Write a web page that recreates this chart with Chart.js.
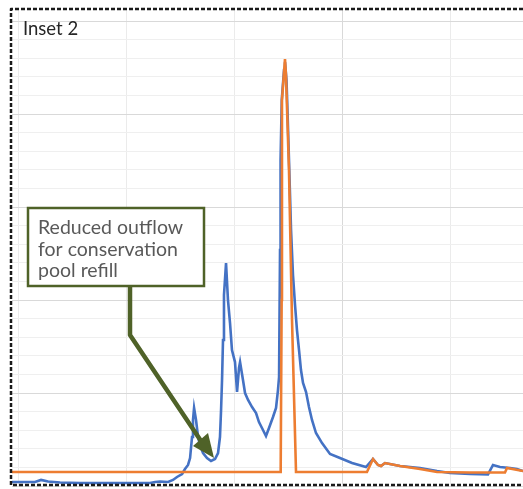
<!DOCTYPE html>
<html>
<head>
<meta charset="utf-8">
<script src="https://cdn.jsdelivr.net/npm/chart.js@4/dist/chart.umd.min.js"></script>
<style>
  html, body { margin: 0; padding: 0; background: #fff; }
  canvas { display: block; }
</style>
</head>
<body>
<canvas id="inset2" width="523" height="489"></canvas>
<script>
'use strict';

// inflow to the reservoir (days, cfs)
var inflowDay = [
    -0.56, 1.57, 2.13, 2.78, 3.89, 5.74, 8.52, 12.22, 12.69, 13.15, 13.89, 14.35,
    14.72, 15.19, 15.46, 15.74, 15.93, 16.11, 16.2, 16.3, 16.48, 16.67, 16.85, 17.13,
    17.5, 17.87, 18.24, 18.52, 18.7, 18.8, 18.89, 18.98, 19.07, 19.26, 19.44, 19.63,
    19.81, 20.09, 20.28, 20.46, 20.56, 20.83, 21.02, 21.3, 21.67, 22.04, 22.31, 22.59,
    22.96, 23.24, 23.61, 23.89, 24.07, 24.17, 24.26, 24.31, 24.42, 24.63, 24.72, 24.86,
    24.95, 25.09, 25.28, 25.46, 25.65, 25.83, 26.02, 26.2, 26.39, 26.67, 26.94, 27.22,
    27.59, 28.15, 28.89, 29.81, 30.93, 32.22, 32.87, 33.33, 33.61, 33.98, 35.37, 37.22,
    38.8, 40.0, 41.85, 43.52, 43.98, 44.63, 45.56, 46.2, 46.76
];
var inflowCfs = [
    4.3, 4.3, 6.5, 4.8, 3.8, 3.2, 3.2, 3.2, 4.3, 4.8, 4.3, 6.5,
    9.7, 12.9, 18.3, 22.6, 30.1, 52.7, 71.0, 83.9, 71.0, 52.7, 44.1, 35.5,
    30.1, 26.9, 29.0, 35.5, 52.7, 81.7, 114.0, 157.0, 205.4, 239.8, 200.0, 175.3,
    146.2, 133.3, 101.1, 126.9, 133.3, 114.0, 100.0, 92.5, 84.9, 78.5, 68.8, 62.4,
    53.8, 62.4, 74.2, 83.9, 103.2, 117.2, 253.8, 350.5, 415.1, 447.3, 455.9, 436.6,
    404.3, 350.5, 275.3, 226.9, 194.6, 167.7, 146.2, 124.7, 110.8, 101.1, 84.9, 71.0,
    57.0, 46.2, 34.4, 30.1, 24.7, 20.4, 29.0, 22.6, 21.5, 24.7, 21.5, 19.4,
    16.1, 14.0, 12.9, 12.4, 22.6, 20.4, 19.4, 18.3, 16.1
];

// outflow from the dam (days, cfs)
var outflowDay = [
    -0.56, 24.32, 24.41, 24.44, 24.72, 24.81, 25.09, 25.37, 25.74, 32.31, 32.87,
    33.33, 33.61, 33.98, 35.37, 37.22, 38.8, 41.85, 45.09, 45.28, 46.76
];
var outflowCfs = [
    15.1, 15.1, 200.0, 415.1, 459.1, 441.9, 339.8, 178.5, 15.1, 15.1, 29.0,
    22.6, 21.5, 24.7, 21.5, 18.3, 15.1, 14.5, 14.5, 19.4, 16.1
];

// grid
var dayLines = [0, 10, 20, 30, 40];
var cfsLines = [0, 20, 40, 60, 80, 100, 120, 140, 160, 180, 200, 220, 240, 260, 280,
                300, 320, 340, 360, 380, 400, 420, 440, 460, 480, 500];

// callout text
var insetTitle = 'Inset 2';
var noteLines = ['Reduced outflow', 'for conservation', 'pool refill'];

var GREEN = '#4f6228';

function toPoints( xs, ys ) {
    var pts = [];
    for ( var i = 0; i < xs.length; i++ ) {
        pts.push( { x: xs[ i ], y: ys[ i ] } );
    }
    return pts;
}

// title, callout box with arrow and the dashed frame
var insetDecor = {
    id: 'insetDecor',
    afterDatasetsDraw: function( chart ) {
        var ctx = chart.ctx;
        ctx.save();

        // callout box
        ctx.fillStyle = '#fff';
        ctx.strokeStyle = GREEN;
        ctx.lineWidth = 2.5;
        ctx.fillRect( 28, 208, 176, 78 );
        ctx.strokeRect( 28, 208, 176, 78 );

        ctx.fillStyle = '#595959';
        ctx.font = '19.5px Lato';
        ctx.textBaseline = 'middle';
        noteLines.forEach( function( line, k ) {
            ctx.fillText( line, 38, 228 + k * 21.5 );
        });

        // leader line
        ctx.lineWidth = 4.5;
        ctx.lineJoin = 'round';
        ctx.beginPath();
        ctx.moveTo( 130, 287 );
        ctx.lineTo( 130, 335 );
        ctx.lineTo( 201, 441 );
        ctx.stroke();

        // arrow head
        ctx.fillStyle = GREEN;
        ctx.beginPath();
        ctx.moveTo( 214, 458 );
        ctx.lineTo( 193, 446 );
        ctx.lineTo( 208, 433 );
        ctx.closePath();
        ctx.fill();

        // title
        ctx.fillStyle = '#262626';
        ctx.font = '18.5px Lato';
        ctx.fillText( insetTitle, 23, 29 );

        // dashed frame
        ctx.strokeStyle = '#1a1a1a';
        ctx.lineWidth = 2.5;
        ctx.setLineDash( [ 4, 2 ] );
        ctx.beginPath();
        ctx.moveTo( 523, 9 );
        ctx.lineTo( 11, 9 );
        ctx.lineTo( 11, 485 );
        ctx.lineTo( 523, 485 );
        ctx.stroke();

        ctx.restore();
    }
};

var chart = new Chart( document.getElementById( 'inset2' ).getContext( '2d' ), {
    type: 'line',
    data: {
        datasets: [
            {
                label: 'Outflow',
                data: toPoints( outflowDay, outflowCfs ),
                borderColor: '#ed7d31',
                borderWidth: 2.6,
                pointRadius: 0,
                tension: 0,
                fill: false,
            },
            {
                label: 'Inflow',
                data: toPoints( inflowDay, inflowCfs ),
                borderColor: '#4472c4',
                borderWidth: 2.6,
                pointRadius: 0,
                tension: 0,
                fill: false,
            },
        ],
    },
    options: {
        responsive: false,
        animation: false,
        devicePixelRatio: 1,
        layout: { padding: { left: 12, top: 10, right: 0, bottom: 3 } },
        plugins: {
            legend: { display: false },
            tooltip: { enabled: false },
        },
        scales: {
            x: {
                type: 'linear',
                min: -0.56,
                max: 46.76,
                afterBuildTicks: function( axis ) {
                    axis.ticks = dayLines.map( function( v ) { return { value: v }; } );
                },
                ticks: { display: false },
                border: { display: false },
                grid: {
                    drawTicks: false,
                    lineWidth: 1,
                    color: function( c ) {
                        return c.tick && c.tick.value === 30 ? '#d9d9d9' : '#ebebeb';
                    },
                },
            },
            y: {
                min: 0,
                max: 512,
                afterBuildTicks: function( axis ) {
                    axis.ticks = cfsLines.map( function( v ) { return { value: v }; } );
                },
                ticks: { display: false },
                border: { display: false },
                grid: {
                    drawTicks: false,
                    lineWidth: 1,
                    color: function( c ) {
                        return c.tick && c.tick.value % 100 === 0 ? '#d9d9d9' : '#efefef';
                    },
                },
            },
        },
    },
    plugins: [ insetDecor ],
});
</script>
</body>
</html>
